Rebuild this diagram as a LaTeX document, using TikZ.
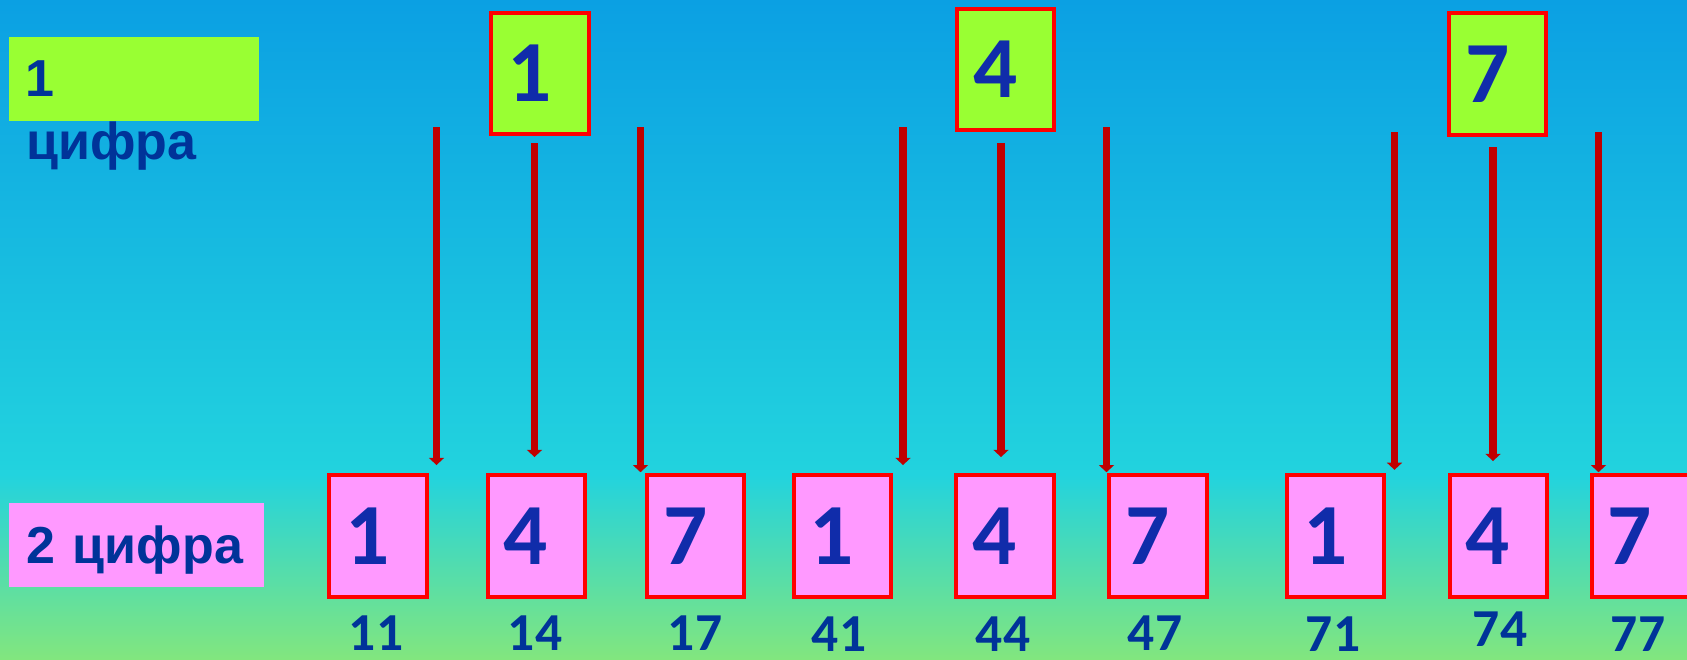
\documentclass[tikz,border=0pt]{standalone}
\usepackage{fontspec}
\setmainfont{Liberation Sans}
\newfontfamily\calfont{Carlito}
\usepackage{tikz}
\usetikzlibrary{arrows.meta, positioning, calc}
\definecolor{skyblue}{RGB}{11,160,227}
\definecolor{skycyan}{RGB}{34,211,222}
\definecolor{skygreen}{RGB}{130,230,126}
\definecolor{mygreen}{RGB}{153,255,51}
\definecolor{mypink}{RGB}{255,153,255}
\definecolor{myred}{RGB}{255,0,0}
\definecolor{mydarkred}{RGB}{192,0,0}
\definecolor{mynavy}{RGB}{0,51,153}
\definecolor{myblue}{RGB}{16,44,170}
\pgfdeclareverticalshading{sky}{100bp}{color(0bp)=(skygreen); color(25bp)=(skygreen); color(39bp)=(skycyan); color(75bp)=(skyblue); color(100bp)=(skyblue)}
\tikzset{
  greenlabel/.style={rectangle, fill=mygreen, text width=5.43cm, inner xsep=0.41cm,
    minimum height=2.1cm, align=left, text=mynavy, text depth=0pt,
    font=\bfseries\fontsize{37}{44}\selectfont},
  pinklabel/.style={greenlabel, fill=mypink, text width=5.495cm, inner xsep=0.44cm},
  labeltext/.style={inner sep=0pt, text=mynavy, font=\bfseries\fontsize{37}{44}\selectfont},
  greenbox/.style={rectangle, draw=myred, fill=mygreen, line width=2.8pt,
    text width=1.63cm, inner xsep=0.4cm, minimum height=3.03cm, align=left,
    text=myblue, font=\calfont\bfseries\fontsize{62}{62}\selectfont},
  pinkbox/.style={greenbox, fill=mypink},
  numtext/.style={anchor=base, inner sep=0pt, text=mynavy,
    font=\calfont\bfseries\fontsize{38}{38}\selectfont},
  arrow/.style={draw=mydarkred, line width=0.19cm,
    -{Triangle[width=0.375cm, length=0.18cm]}}
}

\begin{document}
\begin{tikzpicture}
  \useasboundingbox (0,0) rectangle (42.175,-16.475);
  \clip (0,0) rectangle (42.175,-16.475);
  % Background
  \shade[shading=sky] (0,0) rectangle (42.175,-16.475);

  % Row labels
  \node[greenlabel] (lblone) at (3.35,-1.975) {1};
  \node[labeltext, anchor=base west] (lblword) at (0.65,-3.975) {цифра};
  \node[pinklabel] (lbltwo) at (3.4125,-13.625) {2 цифра};

  % First digits
  \node[greenbox] (topone) at (13.5,-1.8375) {1};
  \node[greenbox] (topfour) at (25.14,-1.7375) {4};
  \node[greenbox] (topseven) at (37.44,-1.85) {7};

  % Second digits
  \node[pinkbox] (d11) at (9.45,-13.4) {1};
  \node[pinkbox] (d14) at (13.41,-13.4) {4};
  \node[pinkbox] (d17) at (17.39,-13.4) {7};
  \node[pinkbox] (d41) at (21.06,-13.4) {1};
  \node[pinkbox] (d44) at (25.125,-13.4) {4};
  \node[pinkbox] (d47) at (28.95,-13.4) {7};
  \node[pinkbox] (d71) at (33.39,-13.4) {1};
  \node[pinkbox] (d74) at (37.46,-13.4) {4};
  \node[pinkbox] (d77) at (41.01,-13.4) {7};

  % Arrows
  \coordinate (s11) at (10.9125,-3.175);
  \coordinate (s14) at (13.3625,-3.575);
  \coordinate (s17) at (16.0125,-3.175);
  \coordinate (s41) at (22.575,-3.175);
  \coordinate (s44) at (25.025,-3.575);
  \coordinate (s47) at (27.6625,-3.175);
  \coordinate (s71) at (34.8625,-3.3);
  \coordinate (s74) at (37.325,-3.675);
  \coordinate (s77) at (39.9625,-3.3);
  \draw[arrow, shorten >=0.21cm] (s11) -- (s11 |- d11.north);
  \draw[arrow, shorten >=0.41cm] (s14) -- (s14 |- d14.north);
  \draw[arrow, shorten >=0.03cm] (s17) -- (s17 |- d17.north);
  \draw[arrow, shorten >=0.21cm] (s41) -- (s41 |- d41.north);
  \draw[arrow, shorten >=0.41cm] (s44) -- (s44 |- d44.north);
  \draw[arrow, shorten >=0.03cm] (s47) -- (s47 |- d47.north);
  \draw[arrow, shorten >=0.09cm] (s71) -- (s71 |- d71.north);
  \draw[arrow, shorten >=0.31cm] (s74) -- (s74 |- d74.north);
  \draw[arrow, shorten >=0.03cm] (s77) -- (s77 |- d77.north);

  % Numbers
  \node[numtext] (num11) at (9.4,-16.25) {11};
  \node[numtext] (num14) at (13.375,-16.25) {14};
  \node[numtext] (num17) at (17.375,-16.27) {17};
  \node[numtext] (num41) at (20.975,-16.29) {41};
  \node[numtext] (num44) at (25.075,-16.29) {44};
  \node[numtext] (num47) at (28.875,-16.25) {47};
  \node[numtext] (num71) at (33.325,-16.29) {71};
  \node[numtext] (num74) at (37.5,-16.15) {74};
  \node[numtext] (num77) at (40.95,-16.29) {77};
\end{tikzpicture}
\end{document}
